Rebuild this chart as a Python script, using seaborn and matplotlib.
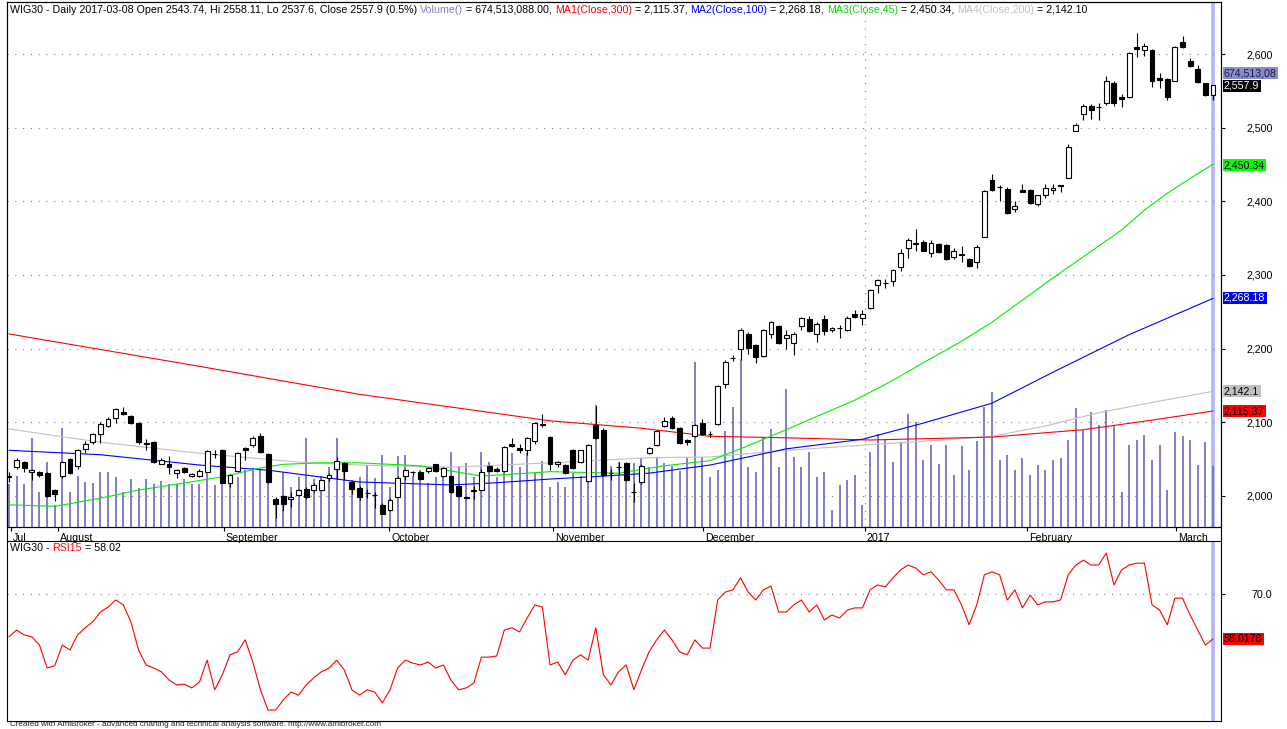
import numpy as np
import pandas as pd
import seaborn as sns
import matplotlib.pyplot as plt
from matplotlib.lines import Line2D
from matplotlib.ticker import FuncFormatter
from matplotlib.transforms import ScaledTranslation

W, H = 1287, 729

# --- data (one value per trading day, 2016-07-22 .. 2017-03-08) ---
opens = [2026, 2039, 2046, 2033, 2032, 2031, 2008, 2027, 2050, 2041,
         2064, 2073, 2084, 2095, 2106, 2114, 2109, 2099, 2072, 2073,
         2044, 2043, 2031, 2038, 2027, 2027, 2033, 2057, 2062, 2018,
         2034, 2065, 2069, 2081, 2057, 1996, 2000, 1996, 2001, 2010,
         2008, 2008, 2024, 2037, 2045, 2019, 2011, 2004, 2001, 1988,
         1981, 1999, 2027, 2033, 2033, 2034, 2043, 2027, 2027, 2014,
         1998, 2007, 2008, 2041, 2037, 2034, 2071, 2065, 2062, 2075,
         2098, 2080, 2043, 2042, 2062, 2046, 2020, 2096, 2090, 2031,
         2039, 2045, 2005, 2019, 2058, 2069, 2095, 2106, 2092, 2076,
         2081, 2099, 2084, 2098, 2152, 2187, 2200, 2220, 2205, 2190,
         2220, 2231, 2215, 2208, 2231, 2240, 2220, 2240, 2225, 2228,
         2225, 2247, 2242, 2255, 2287, 2289, 2292, 2311, 2337, 2344,
         2345, 2330, 2342, 2341, 2325, 2329, 2322, 2317, 2352, 2429,
         2420, 2417, 2389, 2416, 2416, 2397, 2409, 2416, 2421, 2432,
         2496, 2519, 2530, 2528, 2534, 2560, 2541, 2541, 2609, 2606,
         2606, 2568, 2566, 2564, 2616, 2590, 2580, 2560, 2543.74]
highs = [2032, 2051, 2048, 2036, 2034, 2032, 2010, 2048, 2052, 2064,
         2074, 2085, 2100, 2107, 2119, 2121, 2110, 2100, 2078, 2074,
         2051, 2054, 2036, 2040, 2031, 2036, 2063, 2062, 2064, 2030,
         2060, 2067, 2081, 2085, 2058, 1998, 2001, 2005, 2010, 2012,
         2017, 2023, 2031, 2053, 2046, 2021, 2013, 2010, 2005, 1990,
         1997, 2027, 2036, 2034, 2034, 2039, 2044, 2039, 2028, 2015,
         1999, 2014, 2037, 2042, 2039, 2068, 2079, 2070, 2080, 2100,
         2111, 2082, 2047, 2043, 2064, 2063, 2071, 2122, 2092, 2037,
         2046, 2046, 2018, 2043, 2066, 2090, 2107, 2108, 2093, 2078,
         2098, 2104, 2088, 2150, 2184, 2192, 2228, 2222, 2207, 2227,
         2238, 2232, 2225, 2222, 2243, 2245, 2236, 2246, 2229, 2232,
         2244, 2252, 2252, 2281, 2294, 2294, 2308, 2335, 2350, 2363,
         2347, 2347, 2343, 2342, 2337, 2339, 2323, 2341, 2416, 2437,
         2422, 2419, 2400, 2424, 2417, 2409, 2424, 2424, 2422, 2478,
         2506, 2532, 2532, 2533, 2570, 2564, 2546, 2603, 2628, 2615,
         2607, 2574, 2567, 2611, 2625, 2594, 2585, 2561, 2558.11]
lows = [2019, 2037, 2033, 2022, 2026, 1999, 1993, 2025, 2030, 2036,
        2058, 2070, 2072, 2093, 2099, 2110, 2098, 2071, 2062, 2045,
        2043, 2030, 2025, 2031, 2026, 2026, 2032, 2052, 2017, 2012,
        2032, 2049, 2067, 2059, 2018, 1970, 1980, 1985, 2000, 1996,
        2005, 2007, 2020, 2023, 2022, 2003, 1995, 1997, 1984, 1975,
        1979, 1998, 2022, 2027, 2022, 2031, 2033, 2026, 2004, 1999,
        1996, 1996, 2007, 2033, 2033, 2033, 2066, 2058, 2055, 2070,
        2094, 2035, 2040, 2030, 2037, 2045, 2019, 2077, 2027, 2022,
        2030, 2021, 1992, 2016, 2057, 2068, 2094, 2091, 2071, 2069,
        2080, 2083, 2080, 2097, 2147, 2183, 2185, 2193, 2180, 2189,
        2214, 2207, 2199, 2192, 2226, 2222, 2209, 2218, 2222, 2215,
        2224, 2242, 2232, 2254, 2276, 2283, 2285, 2305, 2323, 2333,
        2332, 2325, 2330, 2321, 2322, 2318, 2311, 2310, 2351, 2414,
        2400, 2383, 2386, 2412, 2397, 2394, 2404, 2410, 2412, 2431,
        2495, 2510, 2512, 2511, 2531, 2530, 2528, 2540, 2596, 2597,
        2555, 2554, 2537, 2563, 2608, 2582, 2560, 2543, 2537.6]
closes = [2027, 2049, 2038, 2035, 2028, 2000, 2003, 2046, 2031, 2063,
          2071, 2084, 2098, 2105, 2118, 2111, 2099, 2073, 2070, 2046,
          2049, 2040, 2035, 2033, 2030, 2034, 2061, 2057.5, 2018, 2029,
          2058, 2062, 2079, 2060, 2019, 1989, 1989, 1999, 2008, 1999,
          2015, 2022, 2029, 2048, 2034, 2010, 1999, 2004.5, 2001.5, 1976,
          1995, 2025, 2035, 2032, 2023, 2038, 2034, 2038, 2005, 2000,
          1997, 2007.5, 2033, 2034, 2034, 2067, 2068, 2062, 2079, 2099,
          2096, 2043, 2046, 2031, 2038, 2062, 2069, 2079, 2028, 2031.5,
          2039.5, 2022, 2005.5, 2041, 2065, 2088, 2102, 2092, 2072, 2073,
          2096, 2084, 2084.5, 2149, 2182, 2187.5, 2226, 2201, 2189, 2225,
          2236, 2208, 2219, 2220, 2242, 2224, 2234, 2224, 2228, 2228.5,
          2242, 2243, 2247, 2280, 2293, 2289.5, 2307, 2330, 2348, 2342,
          2333, 2344, 2331, 2322, 2333, 2327, 2312, 2338, 2414, 2416,
          2419, 2384, 2394, 2413, 2398, 2408, 2418, 2418, 2421.5, 2474,
          2503, 2530, 2524, 2528.5, 2564, 2533, 2539, 2602, 2607, 2611,
          2564, 2565, 2542, 2609, 2610, 2584, 2562, 2545, 2557.9]
# volume in millions of shares
volume_m = [476, 564, 476, 984, 387, 719, 243, 1095, 387, 564,
            498, 487, 608, 608, 553, 387, 531, 431, 531, 476,
            509, 476, 476, 531, 476, 476, 619, 465, 807, 553,
            553, 630, 653, 630, 487, 277, 608, 442, 553, 984,
            531, 564, 664, 984, 608, 520, 553,
            686, 542, 796, 442, 785, 796, 564, 630, 487, 553,
            597, 830, 675, 708, 553, 830, 719, 553, 664, 818,
            664, 818, 597, 730, 442, 498, 442, 597, 564, 520,
            1349, 597, 675, 719, 608, 708, 763, 664, 763, 708,
            675, 619, 763, 1825, 774, 553,
            630, 1062, 1327, 1858, 664, 608, 995, 1084, 664, 1526,
            774, 664, 830, 553, 608, 188, 465, 520, 575, 243,
            830, 1029, 962, 719, 940, 1250, 1161, 741, 907, 697,
            907, 575, 896, 630, 951, 1327, 1493, 741, 796, 630,
            763, 575, 686, 630, 741, 763, 962, 1316, 1073, 1272,
            1128, 1294, 1128, 387, 907, 962, 1018, 741, 907, 409,
            1051, 1006, 962, 686, 940, 674.5]
rsi15 = [58.6, 60.4, 59.1, 58.6, 56.4, 50.3, 50.9, 56.4, 55.1, 59.1,
         61.0, 62.6, 65.2, 66.5, 68.4, 67.1, 62.6, 55.1, 51.1, 50.3,
         49.3, 47.1, 45.8, 46.0, 45.0, 46.6, 52.4, 44.5, 48.5, 53.8,
         54.6, 57.8, 51.9, 44.5, 39.1, 39.1, 41.8, 43.9, 43.1, 45.8,
         47.7, 49.3, 50.3, 52.4, 49.8, 44.5, 43.1, 44.5, 43.9, 41.0,
         44.5, 50.3, 52.4, 51.6, 51.1, 51.9, 50.3, 51.1, 47.1, 44.5,
         45.0, 46.3, 53.2, 53.2, 53.5, 60.4, 61.0, 59.9, 63.6, 67.1,
         66.5, 51.1, 51.9, 48.5, 52.4, 53.8, 52.4, 61.0, 48.5, 45.8,
         49.3, 51.1, 44.5, 49.8, 54.6, 57.8, 60.4, 57.8, 54.6, 53.8,
         57.8, 55.6, 55.6, 68.4, 70.5, 71.1, 74.3, 70.5, 68.4, 71.1,
         72.1, 65.2, 65.2, 67.1, 68.4, 65.2, 67.1, 63.1, 64.4, 63.6,
         65.7, 66.3, 66.3, 71.1, 72.4, 71.9, 74.3, 76.4, 77.7, 76.9,
         75.1, 75.9, 73.7, 71.1, 71.1, 67.1, 61.8, 67.1, 75.1, 75.9,
         75.1, 68.4, 71.1, 66.3, 69.7, 67.1, 67.9, 67.9, 68.4, 75.1,
         77.7, 79.0, 77.7, 77.7, 80.9, 72.4, 76.4, 77.7, 78.2, 78.2,
         67.1, 65.7, 61.8, 68.9, 68.9, 64.4, 60.4, 56.4, 58.02]

# moving averages, read at selected bars
ma1_bar = [0, 25, 46, 71, 83, 92, 102, 113, 129, 141, 150, 158]
ma1_val = [2220, 2176, 2138, 2102, 2092, 2081, 2079, 2076, 2080, 2090, 2103, 2115.37]
ma2_bar = [0, 12, 25, 34, 46, 58, 64, 71, 78, 84, 92, 102, 112, 120, 129, 137, 147, 158]
ma2_val = [2062, 2056, 2042, 2035, 2019, 2015, 2018, 2023, 2027, 2031, 2042, 2064,
           2077, 2099, 2126, 2168, 2219, 2268.18]
ma3_bar = [0, 6, 12, 17, 22, 28, 33, 36, 41, 46, 54, 62, 71, 80, 86, 92, 96, 102,
           106, 111, 116, 120, 125, 129, 133, 137, 142, 146, 149, 152, 155, 158]
ma3_val = [1988, 1986, 1997, 2008, 2016, 2026, 2038, 2043, 2045, 2045, 2041, 2027,
           2033, 2031, 2041, 2048, 2064, 2090, 2108, 2130, 2157, 2181, 2210, 2236,
           2266, 2296, 2332, 2361, 2388, 2411, 2431, 2450.34]
ma4_bar = [0, 12, 25, 38, 46, 58, 71, 84, 92, 102, 112, 121, 129, 136, 143, 150, 158]
ma4_val = [2091, 2073, 2058, 2046, 2042, 2039, 2045, 2052, 2053, 2062, 2069, 2075,
           2081, 2095, 2113, 2127, 2142.1]

month_pos = [0.3, 6.4, 28.2, 49.9, 71.4, 91.1, 112.3, 133.6, 153.1]
month_names = ['Jul', 'August', 'September', 'October', 'November', 'December',
               '2017', 'February', 'March']

sns.set_theme(style='white')
plt.rcParams['font.family'] = ['Liberation Sans', 'DejaVu Sans']

df = pd.DataFrame({'open': opens, 'high': highs, 'low': lows, 'close': closes,
                   'vol': volume_m, 'rsi': rsi15})
df['bar'] = np.arange(len(df))

fig = plt.figure(figsize=(W / 100, H / 100), dpi=100)


def fx(px):
    return px / W


def fy(py):
    return 1 - py / H


L, R = 7, 1221
ax = fig.add_axes([fx(L), fy(527), fx(R - L), (527 - 2) / H])
ax_rsi = fig.add_axes([fx(L), fy(721), fx(R - L), (721 - 541) / H], sharex=ax)
ax_vol = ax.twinx()
ax.set_zorder(ax_vol.get_zorder() + 1)
ax.patch.set_visible(False)

xlim = (-0.26, 159.05)
dots = (0, (1, 6))
grid_c = '#808080'
fs = 7.7

# volume: thin sticks
ax_vol.axvline(158, color='#b4b4ff', lw=2.6, zorder=0)
ax_vol.vlines(df['bar'], 0, df['vol'], color='#7070c2', lw=1.25, zorder=1)
ax_vol.set_ylim(0, 5805)
ax_vol.set_yticks([])

# candles
up = df['close'] >= df['open']
body_lo = np.minimum(df['open'], df['close'])
body_h = np.maximum(np.abs(df['close'] - df['open']), 0.6)
ax.vlines(df['bar'], df['low'], df['high'], color='black', lw=0.8, zorder=3)
ax.bar(df['bar'][up], body_h[up], bottom=body_lo[up], width=0.64,
       color='white', edgecolor='black', linewidth=0.8, zorder=4)
ax.bar(df['bar'][~up], body_h[~up], bottom=body_lo[~up], width=0.64,
       color='black', edgecolor='black', linewidth=0.8, zorder=4)

# moving averages
for bars, vals, col in [(ma4_bar, ma4_val, '#c0c0c0'), (ma1_bar, ma1_val, '#ff0000'),
                        (ma2_bar, ma2_val, '#0000ff'), (ma3_bar, ma3_val, '#00ee00')]:
    sns.lineplot(x=bars, y=vals, color=col, lw=0.8, ax=ax, zorder=2)

ax.set_xlim(*xlim)
ax.set_ylim(1957.9, 2670.6)
ax.yaxis.tick_right()
ax.set_yticks(range(2000, 2700, 100))
ax.yaxis.set_major_formatter(FuncFormatter(lambda v, p: f'{v:,.0f}'))
ax.tick_params(axis='y', direction='out', length=3, width=0.8, pad=34,
               labelsize=fs, colors='black', right=True, left=False)
for lab in ax.get_yticklabels():
    lab.set_ha('right')
ax.grid(axis='y', color=grid_c, linestyle=dots, linewidth=0.8)
ax.axvline(112.3, color=grid_c, linestyle=dots, linewidth=0.8, zorder=1)

ax.set_xticks(month_pos)
ax.set_xticklabels(month_names)
ax.tick_params(axis='x', direction='out', length=3, width=0.8, pad=1,
               labelsize=fs, bottom=True, top=False, colors='black')
shift = ScaledTranslation(2 / 100, 0, fig.dpi_scale_trans)
for lab in ax.get_xticklabels():
    lab.set_ha('left')
    lab.set_transform(lab.get_transform() + shift)
ax.set_xlabel('')
ax.set_ylabel('')
ax_vol.set_ylabel('')

# RSI panel
ax_rsi.axvline(158, color='#b4b4ff', lw=2.6, zorder=0)
sns.lineplot(data=df, x='bar', y='rsi', color='#ff0000', lw=0.8, ax=ax_rsi, zorder=3)
ax_rsi.set_xlim(*xlim)
ax_rsi.set_ylim(36.2, 84.1)
ax_rsi.yaxis.tick_right()
ax_rsi.set_yticks([70])
ax_rsi.yaxis.set_major_formatter(FuncFormatter(lambda v, p: f'{v:.1f}'))
ax_rsi.tick_params(axis='y', direction='out', length=3, width=0.8, pad=34,
                   labelsize=fs, colors='black', right=True, left=False)
for lab in ax_rsi.get_yticklabels():
    lab.set_ha('right')
ax_rsi.tick_params(axis='x', bottom=False, labelbottom=False)
ax_rsi.grid(axis='y', color=grid_c, linestyle=dots, linewidth=0.8)
ax_rsi.set_xlabel('')
ax_rsi.set_ylabel('')

for a in (ax, ax_vol, ax_rsi):
    for s in a.spines.values():
        s.set_color('black')
        s.set_linewidth(0.8)

# borders of the date row
for xp in (L, R):
    fig.add_artist(Line2D([fx(xp), fx(xp)], [fy(527), fy(541)], color='black', lw=0.8))

renderer = fig.canvas.get_renderer()


def color_text(x, y, parts, size=fs):
    for s, c in parts:
        t = fig.text(fx(x), fy(y), s, color=c, fontsize=size, ha='left', va='center')
        x += t.get_window_extent(renderer=renderer).width


color_text(10, 10, [
    ('WIG30 - Daily 2017-03-08 Open 2543.74, Hi 2558.11, Lo 2537.6, Close 2557.9 (0.5%) ', 'black'),
    ('Volume()', '#8080c0'), (' = 674,513,088.00, ', 'black'),
    ('MA1(Close,300)', '#ff0000'), (' = 2,115.37, ', 'black'),
    ('MA2(Close,100)', '#0000ff'), (' = 2,268.18, ', 'black'),
    ('MA3(Close,45)', '#00dd00'), (' = 2,450.34, ', 'black'),
    ('MA4(Close,200)', '#c0c0c0'), (' = 2,142.10', 'black')])
color_text(10, 548, [('WIG30 - ', 'black'), ('RSI15', '#ff0000'), (' = 58.02', 'black')])

fig.text(fx(10), fy(724), 'Created with AmiBroker - advanced charting and technical analysis '
         'software. http://www.amibroker.com', fontsize=5.9, ha='left', va='center')

# value tags at the right edge
tags = [(73, '674,513,08', '#8c8cc8', '#1a1a4a'),
        (86, '2,557.9', 'black', 'white'),
        (165, '2,450.34', '#00ff00', 'black'),
        (298, '2,268.18', '#0000ff', 'white'),
        (391, '2,142.1', '#c0c0c0', 'black'),
        (411, '2,115.37', '#ff0000', 'black'),
        (639, '58.0178', '#ff0000', 'black')]
for ty, txt, bg, fg in tags:
    fig.text(fx(1224), fy(ty), txt, color=fg, fontsize=fs, ha='left', va='center',
             bbox=dict(boxstyle='square,pad=0.12', fc=bg, ec='none'))

fig.savefig('out.png', dpi=100)
